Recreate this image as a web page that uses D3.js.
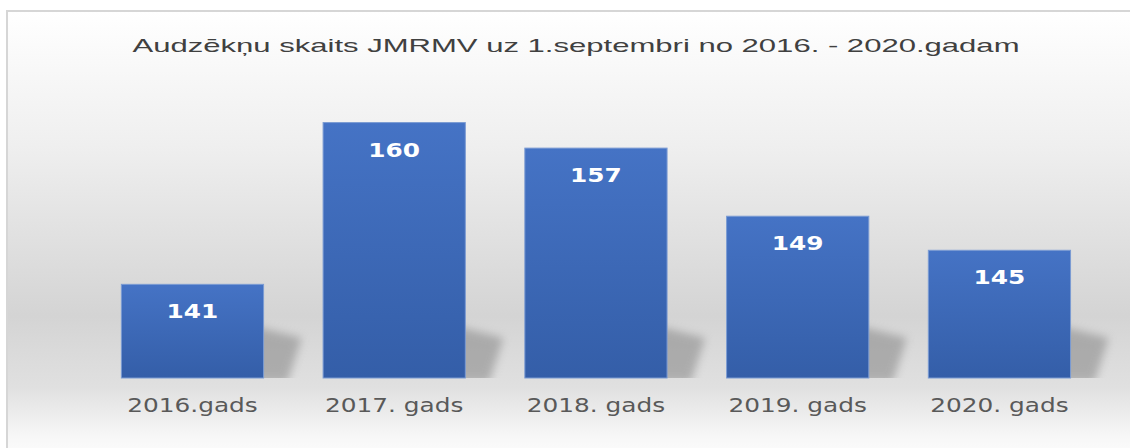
<!DOCTYPE html>
<html>
<head>
<meta charset="utf-8">
<script src="https://cdn.jsdelivr.net/npm/d3@7"></script>
<style>
  body { margin: 0; background: #fff; }
  .title { font-family: "Liberation Sans Narrow", "Liberation Sans", sans-serif; font-size: 19px; fill: #404040; }
  .val { font-family: "DejaVu Sans", Verdana, sans-serif; font-weight: bold; font-size: 20px; fill: #fff; }
  .cat { font-family: "DejaVu Sans", Verdana, sans-serif; font-size: 20px; fill: #595959; }
</style>
</head>
<body>
<div class="content"></div>
<script>
// DATA
var title = 'Audzēkņu skaits JMRMV uz 1.septembri no 2016. - 2020.gadam';
var years = ['2016.gads', '2017. gads', '2018. gads', '2019. gads', '2020. gads'];
var pupils = [141, 160, 157, 149, 145];

// VARIABLES
var w = 1130,
    h = 448,
    stretch = 1.24;

var data = years.map(function(d, i) { return {year: d, value: pupils[i]}; });

// PREPARE SVG
var svg = d3.select('.content').append('svg')
    .attr('width', w)
    .attr('height', h);

var defs = svg.append('defs');

var bg = defs.append('linearGradient').attr('id', 'bg')
    .attr('x1', 0).attr('y1', 0).attr('x2', 0).attr('y2', 1);
[[0, '#ffffff'], [0.3, '#efefef'], [0.68, '#d4d4d4'], [0.84, '#e0e0e0'], [0.95, '#f7f7f7'], [1, '#fdfdfd']]
    .forEach(function(s) { bg.append('stop').attr('offset', s[0]).attr('stop-color', s[1]); });

var barGrad = defs.append('linearGradient').attr('id', 'bar')
    .attr('x1', 0).attr('y1', 0).attr('x2', 0).attr('y2', 1);
barGrad.append('stop').attr('offset', 0).attr('stop-color', '#4573c5');
barGrad.append('stop').attr('offset', 1).attr('stop-color', '#345ea8');

defs.append('filter').attr('id', 'blur')
    .attr('x', '-50%').attr('y', '-50%').attr('width', '200%').attr('height', '200%')
  .append('feGaussianBlur').attr('stdDeviation', 4);

// SCALES
var x = d3.scaleBand()
    .domain(years)
    .range([91.6, 1100.3])
    .paddingInner(0.295)
    .paddingOuter(0.1475);

var y = d3.scaleLinear()
    .domain([130, 165])
    .range([378, 80]);

var base = y(130);

defs.append('clipPath').attr('id', 'wall')
  .append('rect').attr('x', 0).attr('y', 0).attr('width', w).attr('height', base);

// BACKGROUND + FRAME
svg.append('rect')
    .attr('x', 7).attr('y', 11)
    .attr('width', w).attr('height', h)
    .attr('fill', 'url(#bg)')
    .attr('stroke', '#d6d6d6')
    .attr('stroke-width', 2);

// TITLE
svg.append('text')
    .attr('class', 'title')
    .attr('x', 576).attr('y', 52)
    .attr('text-anchor', 'middle')
    .attr('textLength', 887)
    .attr('lengthAdjust', 'spacingAndGlyphs')
    .text(title);

// SHADOWS
svg.append('g')
    .attr('clip-path', 'url(#wall)')
    .selectAll('path')
    .data(data)
    .enter()
    .append('path')
    .attr('d', function(d) {
        var x1 = x(d.year) + x.bandwidth();
        return 'M' + (x1 - 10) + ',' + (base - 52) +
               'L' + (x1 + 38) + ',' + (base - 40) +
               'L' + (x1 + 24) + ',' + (base + 4) +
               'L' + (x1 - 10) + ',' + (base + 4) + 'Z';
    })
    .attr('fill', '#8c8c8c')
    .attr('opacity', 0.6)
    .attr('filter', 'url(#blur)');

// BARS
svg.append('g')
    .selectAll('rect')
    .data(data)
    .enter()
    .append('rect')
    .attr('x', function(d) { return x(d.year); })
    .attr('y', function(d) { return y(d.value); })
    .attr('width', x.bandwidth())
    .attr('height', function(d) { return base - y(d.value); })
    .attr('fill', 'url(#bar)')
    .attr('stroke', '#7b9bd3')
    .attr('stroke-width', 1);

// VALUE LABELS
svg.append('g')
    .selectAll('text')
    .data(data)
    .enter()
    .append('text')
    .attr('class', 'val')
    .attr('text-anchor', 'middle')
    .attr('transform', function(d) {
        return 'translate(' + (x(d.year) + x.bandwidth() / 2) + ',' + (y(d.value) + 34) + ') scale(' + stretch + ',1)';
    })
    .text(function(d) { return d.value; });

// CATEGORY AXIS
var axis = svg.append('g')
    .attr('transform', 'translate(0,' + base + ')')
    .call(d3.axisBottom(x).tickSize(0).tickPadding(0));
axis.select('.domain').remove();
axis.selectAll('text')
    .attr('class', 'cat')
    .attr('fill', null)
    .attr('font-family', null)
    .attr('font-size', null)
    .attr('dy', null)
    .attr('y', null)
    .attr('transform', 'translate(0,34) scale(' + stretch + ',1)');
</script>
</body>
</html>
